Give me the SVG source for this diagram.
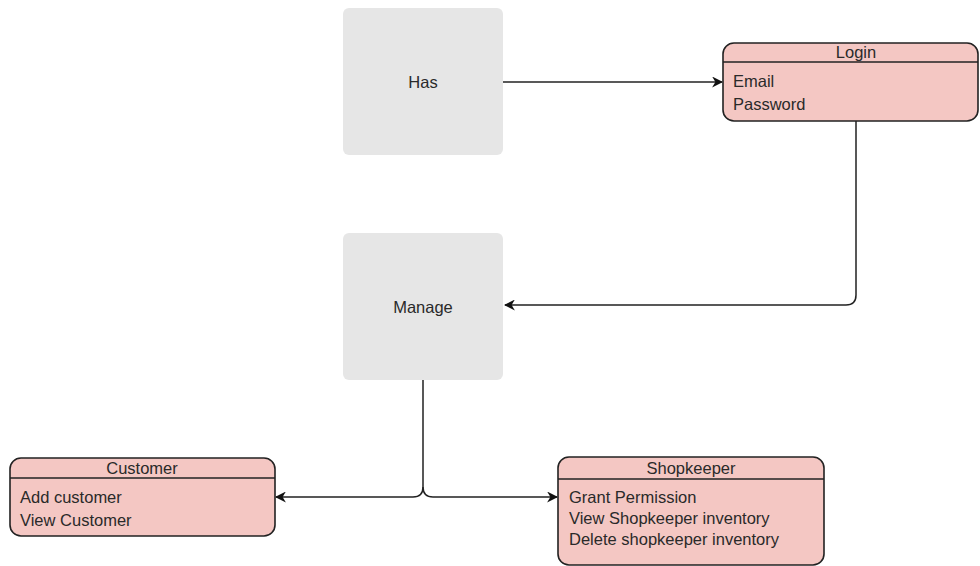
<svg xmlns="http://www.w3.org/2000/svg" width="980" height="566" viewBox="0 0 980 566">
  <style>
    .bg { fill: #ffffff; }
    .proc { fill: #e6e6e6; stroke: none; }
    .ent { fill: #f4c7c3; stroke: #222222; stroke-width: 1.6; }
    .sep { stroke: #222222; stroke-width: 1.4; }
    .wire { fill: none; stroke: #222222; stroke-width: 1.5; }
    text { font-family: "Liberation Sans", Arial, sans-serif; font-size: 16.5px; fill: #2a2a2a; }
    .mid { text-anchor: middle; }
  </style>
  <defs>
    <marker id="arrow" viewBox="0 0 10 10" refX="9" refY="5" markerWidth="11" markerHeight="11" markerUnits="userSpaceOnUse" orient="auto">
      <path d="M0,0 L10,5 L0,10 L3,5 Z" fill="#111111"/>
    </marker>
  </defs>
  <rect class="bg" x="0" y="0" width="980" height="566"/>

  <!-- connectors -->
  <g id="connectors">
    <path class="wire" d="M503,82 H722" marker-end="url(#arrow)"/>
    <path class="wire" d="M856,121 V295 Q856,305 846,305 H505" marker-end="url(#arrow)"/>
    <path class="wire" d="M423,380 V487 Q423,497 413,497 H276" marker-end="url(#arrow)"/>
    <path class="wire" d="M423,487 Q423,497 433,497 H557" marker-end="url(#arrow)"/>
  </g>

  <g id="has">
    <rect class="proc" x="343" y="8" width="160" height="147" rx="6"/>
    <text class="mid" x="423" y="88">Has</text>
  </g>

  <g id="manage">
    <rect class="proc" x="343" y="233" width="160" height="147" rx="6"/>
    <text class="mid" x="423" y="313">Manage</text>
  </g>

  <g id="login">
    <rect class="ent" x="723" y="43" width="255" height="78" rx="11"/>
    <line class="sep" x1="723" y1="62" x2="978" y2="62"/>
    <text class="mid" x="856" y="58">Login</text>
    <text x="733" y="87">Email</text>
    <text x="733" y="110">Password</text>
  </g>

  <g id="customer">
    <rect class="ent" x="10" y="458" width="265" height="78" rx="11"/>
    <line class="sep" x1="10" y1="478" x2="275" y2="478"/>
    <text class="mid" x="142" y="474">Customer</text>
    <text x="20" y="503">Add customer</text>
    <text x="20" y="526">View Customer</text>
  </g>

  <g id="shopkeeper">
    <rect class="ent" x="558" y="457" width="266" height="108" rx="11"/>
    <line class="sep" x1="558" y1="479" x2="824" y2="479"/>
    <text class="mid" x="691" y="474">Shopkeeper</text>
    <text x="569" y="503">Grant Permission</text>
    <text x="569" y="524">View Shopkeeper inventory</text>
    <text x="569" y="545">Delete shopkeeper inventory</text>
  </g>
</svg>
